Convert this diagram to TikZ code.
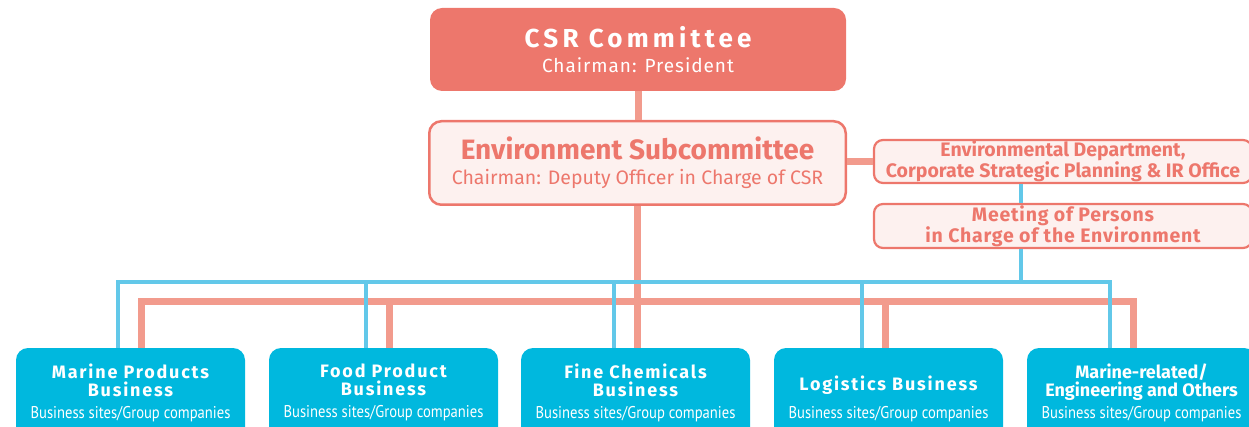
\documentclass[tikz,border=0pt]{standalone}
\usepackage{fontspec}
\usepackage{graphicx}
\setmainfont{Fira Sans}
\newfontfamily\spacedfont[LetterSpace=10]{Fira Sans}
\newfontfamily\widefont[LetterSpace=16]{Fira Sans}
\newfontfamily\narrowfont{PT Sans}
\newcommand{\cond}[1]{{\narrowfont\fontsize{17}{18}\selectfont\scalebox{0.86}[1]{#1}}}
\newcommand{\biztitle}[1]{{\spacedfont\bfseries #1}}
\usetikzlibrary{calc}

\begin{document}
\begin{tikzpicture}[x=1pt, y=-1pt,
 every text node part/.style={align=center},
 bigblock/.style={rectangle, inner sep=0pt, minimum width=416pt, minimum height=83pt, rounded corners=12pt},
 sideblock/.style={rectangle, inner sep=0pt, minimum width=378pt, minimum height=43pt, rounded corners=9pt, draw=salmon, line width=2.2pt, fill=blush, text=salmon},
 bizblock/.style={rectangle, inner sep=0pt, minimum width=229pt, minimum height=100pt, rounded corners=12pt, fill=cyanbox},
 biztext/.style={inner sep=0pt, text=white, font=\fontsize{18}{18}\selectfont},
 redline/.style={draw=pinkline, line width=7pt},
 blueline/.style={draw=skyline, line width=3.5pt}]

    \definecolor{salmon}{RGB}{237,119,108}
    \definecolor{blush}{RGB}{253,241,239}
    \definecolor{pinkline}{RGB}{242,155,141}
    \definecolor{skyline}{RGB}{98,200,233}
    \definecolor{cyanbox}{RGB}{0,184,222}

    \useasboundingbox (0,0) rectangle (1249,427);
    \clip (0,0) rectangle (1249,427);

	\node[bigblock, fill=salmon, text=white, font=\fontsize{19}{25}\selectfont] (csr) at (638,49.5)
	    {{\widefont\fontsize{26}{25}\selectfont\bfseries CSR Committee}\\ {\addfontfeature{LetterSpace=5}Chairman: President}};
	\node[bigblock, minimum width=416.5pt, minimum height=83.5pt, draw=salmon, line width=2.5pt, fill=blush, text=salmon, font=\fontsize{19.5}{25}\selectfont] (envsub) at (637.5,163)
	    {{\fontsize{28}{25}\selectfont\bfseries Environment Subcommittee}\\ Chairman: Deputy Officer in Charge of CSR};
	\node[sideblock, font=\fontsize{19.5}{19}\selectfont\bfseries] (envdept) at (1063,161.5) {Environmental Department,\\ Corporate Strategic Planning \& IR Office};
	\node[sideblock, minimum height=44pt, font=\fontsize{19.5}{19}\selectfont\bfseries\addfontfeature{LetterSpace=4}] (meeting) at (1063,226) {Meeting of Persons\\ in Charge of the Environment};

	\node[bizblock] (marine) at (130.5,398) {};
	\node[bizblock] (food) at (383.5,398) {};
	\node[bizblock] (fine) at (635.5,398) {};
	\node[bizblock] (logi) at (888.5,398) {};
	\node[bizblock] (other) at (1141.5,398) {};

	\node[biztext] (marine label) at ($(marine.north)+(0,45)$) {\biztitle{Marine Products}\\ \biztitle{Business}\\[4pt] \cond{Business sites/Group companies}};
	\node[biztext] (food label) at ($(food.north)+(0,45)$) {\biztitle{Food Product}\\ \biztitle{Business}\\[4pt] \cond{Business sites/Group companies}};
	\node[biztext] (fine label) at ($(fine.north)+(0,45)$) {\biztitle{Fine Chemicals}\\ \biztitle{Business}\\[4pt] \cond{Business sites/Group companies}};
	\node[biztext] (logi label) at ($(logi.north)+(0,51)$) {\biztitle{Logistics Business}\\[10pt] \cond{Business sites/Group companies}};
	\node[biztext] (other label) at ($(other.north)+(0,45)$) {\textbf{Marine-related/}\\ \textbf{Engineering and Others}\\[4pt] \cond{Business sites/Group companies}};

	\coordinate (tap) at (1021,282);

	\draw[redline] (csr.south) -- (csr.south |- envsub.north);
	\draw[redline] (envsub.east |- envdept.west) -- (envdept.west);
	\draw[redline] (141,0 |- marine.north) |- (1133,302) -- (1133,0 |- other.north);
	\foreach \x/\b in {389/food, 885/logi}
	    \draw[redline] (\x,302) -- (\x,0 |- \b.north);
	\draw[redline] (envsub.south) -- (envsub.south |- fine.north);

	\draw[blueline] (envdept.south -| tap) -- (meeting.north -| tap);
	\draw[blueline] (meeting.south -| tap) -- (tap);
	\draw[blueline] (118,0 |- marine.north) |- (1110,282) -- (1110,0 |- other.north);
	\foreach \x/\b in {366/food, 614/fine, 862/logi}
	    \draw[blueline] (\x,282) -- (\x,0 |- \b.north);
\end{tikzpicture}
\end{document}
